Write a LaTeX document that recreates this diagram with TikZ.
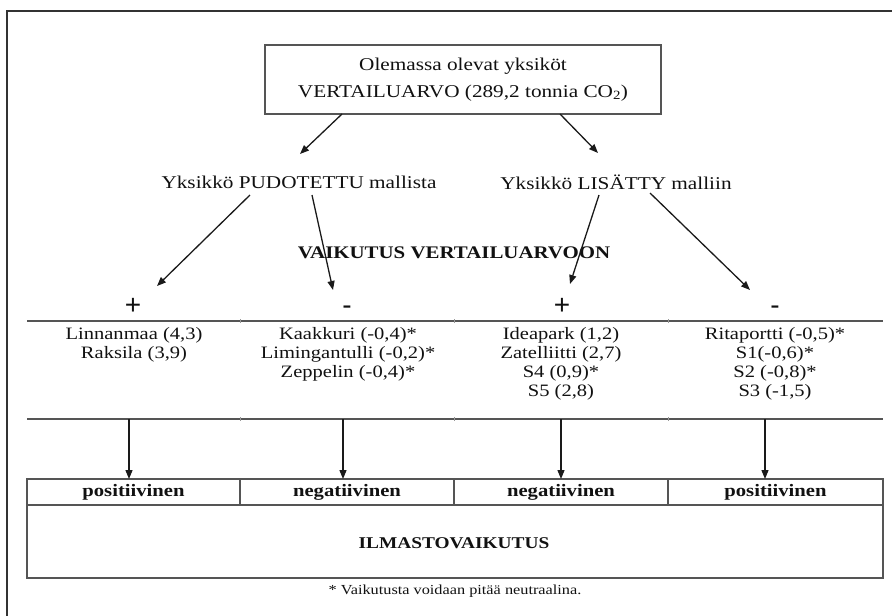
\documentclass[tikz,border=0pt]{standalone}
\usepackage{fontspec}
\setmainfont{Liberation Serif}[FakeStretch=1.18]
\newfontfamily\signfont{Liberation Sans}
\usetikzlibrary{arrows.meta}
\definecolor{textcol}{HTML}{111111}
\definecolor{linecol}{HTML}{555555}
\definecolor{framecol}{HTML}{333333}
\definecolor{arrcol}{HTML}{1A1A1A}
\begin{document}
\begin{tikzpicture}[x=1pt,y=-1pt,
  txt/.style={inner sep=0pt, text=textcol, align=center},
  arr/.style={draw=arrcol, line width=1.3pt, -{Triangle[length=9pt,width=7pt]}},
  tline/.style={draw=linecol, line width=1.4pt},
  coltxt/.style={txt, anchor=north, font=\fontsize{17.4}{19}\selectfont},
  signtxt/.style={inner sep=0pt, text=textcol, anchor=base, font=\signfont\fontsize{28}{30}\selectfont},
  headtxt/.style={txt, font=\bfseries\fontsize{17.5}{19}\selectfont}]
\useasboundingbox (0,0) rectangle (892,616);
\fill[white] (0,0) rectangle (892,616);
% outer frame (cut at right and bottom)
\draw[draw=framecol, line width=1.4pt] (7,616) -- (7,11) -- (892,11);

% top box
\node[draw=linecol, line width=1.4pt, minimum width=396pt, minimum height=69pt, inner sep=0pt,
      text=textcol, align=center, font=\fontsize{18}{27}\selectfont] (top) at (463,79.5)
  {Olemassa olevat yksiköt\\VERTAILUARVO (289,2 tonnia CO\textsubscript{2})};

% second level
\node[txt, font=\fontsize{18}{20}\selectfont] (drop) at (299,182) {Yksikkö PUDOTETTU mallista};
\node[txt, font=\fontsize{18}{20}\selectfont] (add) at (616,182) {Yksikkö LISÄTTY malliin};

% heading
\node[txt, font=\bfseries\fontsize{17.7}{20}\selectfont] (vaik) at (454,253) {VAIKUTUS VERTAILUARVOON};

% signs
\node[signtxt] (p1) at (133,314) {+};
\node[signtxt] (m1) at (347,314) {-};
\node[signtxt] (p2) at (562,314) {+};
\node[signtxt] (m2) at (775,314) {-};

% table lines
\draw[tline] (27,321) -- (883,321);
\draw[tline] (27,419) -- (883,419);
\foreach \x in {240,454,668}{
  \draw[draw=linecol!60, line width=0.8pt] (\x,319) -- (\x,323);
  \draw[draw=linecol!60, line width=0.8pt] (\x,417) -- (\x,421);
}

% column entries
\node[coltxt] (c1) at (134,327) {Linnanmaa (4,3)\\Raksila (3,9)};
\node[coltxt] (c2) at (348,327) {Kaakkuri (-0,4)*\\Limingantulli (-0,2)*\\Zeppelin (-0,4)*};
\node[coltxt] (c3) at (561,327) {Ideapark (1,2)\\Zatelliitti (2,7)\\S4 (0,9)*\\S5 (2,8)};
\node[coltxt] (c4) at (775,327) {Ritaportti (-0,5)*\\S1(-0,6)*\\S2 (-0,8)*\\S3 (-1,5)};

% bottom box
\draw[tline] (27,479) rectangle (883,578);
\draw[tline] (27,505) -- (883,505);
\foreach \x in {240,454,668}{ \draw[tline] (\x,479) -- (\x,505); }
\node[headtxt] (h1) at (133.5,492) {positiivinen};
\node[headtxt] (h2) at (347,492) {negatiivinen};
\node[headtxt] (h3) at (561,492) {negatiivinen};
\node[headtxt] (h4) at (775.5,492) {positiivinen};
\node[txt, font=\bfseries\fontsize{16.4}{18}\selectfont] (ilm) at (454,543) {ILMASTOVAIKUTUS};

% footnote
\node[txt, font=\fontsize{13.8}{15}\selectfont] (foot) at (455,591) {* Vaikutusta voidaan pitää neutraalina.};

% arrow end points
\coordinate (a1s) at (342,114); \coordinate (a1e) at (300,154);
\coordinate (a2s) at (560,114); \coordinate (a2e) at (598,153);
\coordinate (a3s) at (250,195); \coordinate (a3e) at (157,286);
\coordinate (a4s) at (312,195); \coordinate (a4e) at (333,290);
\coordinate (a5s) at (599,195); \coordinate (a5e) at (570,284);
\coordinate (a6s) at (650,193); \coordinate (a6e) at (750,290);
\coordinate (v1s) at (129,419); \coordinate (v1e) at (129,479);
\coordinate (v2s) at (343,419); \coordinate (v2e) at (343,479);
\coordinate (v3s) at (561,419); \coordinate (v3e) at (561,479);
\coordinate (v4s) at (765,419); \coordinate (v4e) at (765,479);

\draw[arr] (a1s) -- (a1e);
\draw[arr] (a2s) -- (a2e);
\draw[arr] (a3s) -- (a3e);
\draw[arr] (a4s) -- (a4e);
\draw[arr] (a5s) -- (a5e);
\draw[arr] (a6s) -- (a6e);
\draw[arr] (v1s) -- (v1e);
\draw[arr] (v2s) -- (v2e);
\draw[arr] (v3s) -- (v3e);
\draw[arr] (v4s) -- (v4e);
\end{tikzpicture}
\end{document}
